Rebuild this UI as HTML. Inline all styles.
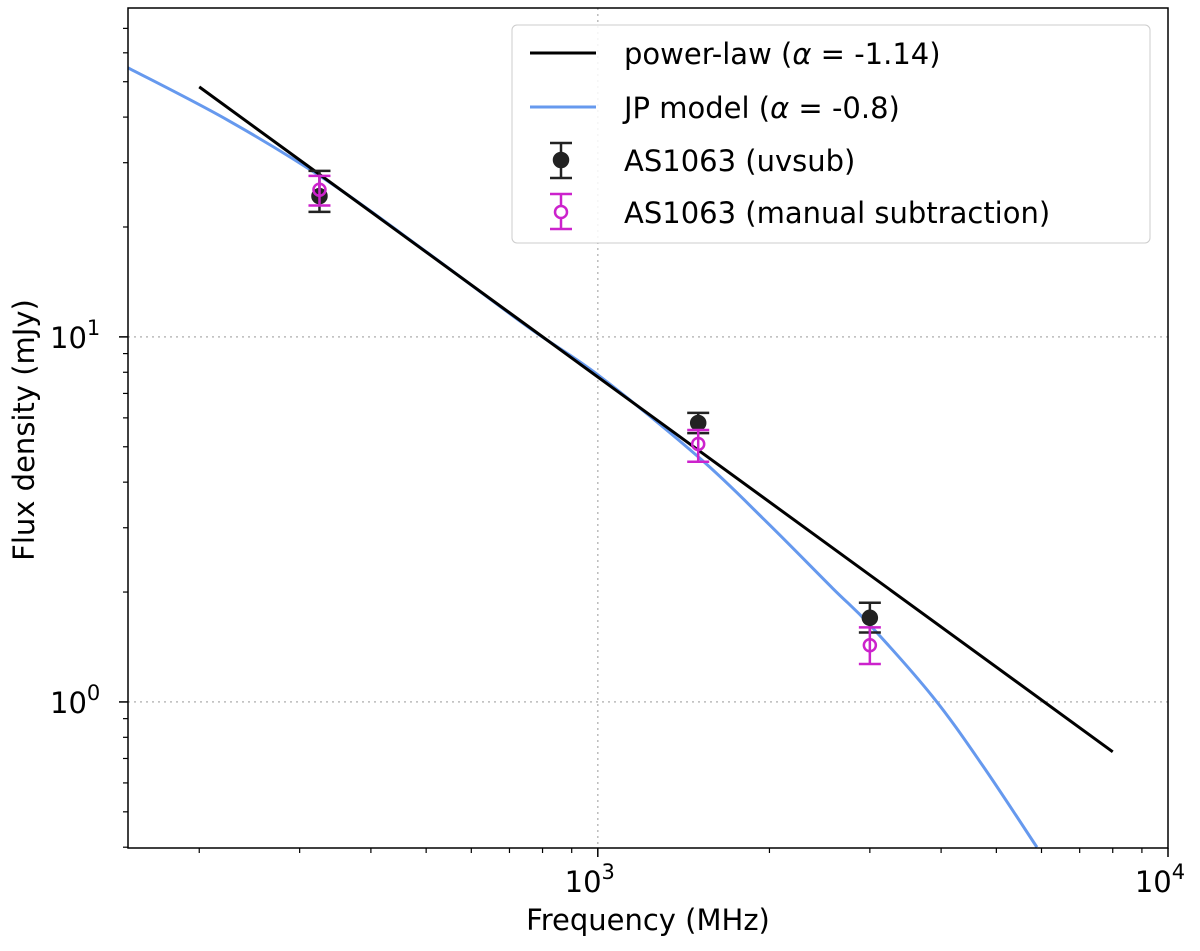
<!DOCTYPE html>
<html><head><meta charset="utf-8"><style>
body{margin:0;background:#fff;}
svg text{font-family:"DejaVu Sans","Liberation Sans",sans-serif;}
</style></head><body>
<svg id="chart" width="1200" height="946" xmlns="http://www.w3.org/2000/svg">
<g id="grid"></g>
<g id="series"></g>
<g id="axes"></g>
<text x="648" y="930" font-size="29" text-anchor="middle">Frequency (MHz)</text>
<text transform="translate(34,430) rotate(-90)" font-size="29" text-anchor="middle">Flux density (mJy)</text>
<g>
<rect x="512" y="25" width="638" height="218" rx="5" fill="#fff" fill-opacity="0.85" stroke="#ccc"/>
<line x1="530" y1="53" x2="596" y2="53" stroke="#000" stroke-width="3"/>
<text x="624" y="64" font-size="29">power-law (<tspan font-style="italic">α</tspan> = -1.14)</text>
<line x1="530" y1="107" x2="596" y2="107" stroke="#6699ee" stroke-width="3"/>
<text x="624" y="118" font-size="29">JP model (<tspan font-style="italic">α</tspan> = -0.8)</text>
<g stroke="#222" stroke-width="2.5"><line x1="561" y1="143" x2="561" y2="178"/><line x1="550" y1="143" x2="572" y2="143"/><line x1="550" y1="178" x2="572" y2="178"/><circle cx="561" cy="160" r="7" fill="#222"/></g>
<text x="624" y="171" font-size="29">AS1063 (uvsub)</text>
<g stroke="#cc22cc" stroke-width="2.5"><line x1="561" y1="194" x2="561" y2="229"/><line x1="550" y1="194" x2="572" y2="194"/><line x1="550" y1="229" x2="572" y2="229"/><circle cx="561" cy="212" r="6" fill="#fff"/></g>
<text x="624" y="223" font-size="29">AS1063 (manual subtraction)</text>
</g>
</svg>
<script>
const plFreq=[200,8000];
const plFlux=[48.4,0.73];
const jpFreq=[150,224,336,503,754,1008,1510,1978,2580,3000,3870,4735,5890];
const jpFlux=[54.6,39.3,26.7,17.0,10.65,7.8,4.65,3.11,2.05,1.625,1.032,0.668,0.400];
const ptFreq=[325,1500,3000];
const uvFlux=[24.3,5.81,1.70];
const uvLo=[22.0,5.45,1.55];
const uvHi=[28.5,6.19,1.87];
const manFlux=[25.3,5.09,1.43];
const manLo=[22.9,4.55,1.27];
const manHi=[27.6,5.56,1.60];
const L=128,R=1168,T=8,B=848;
const xLo=Math.log10(150),xHi=4,yLo=Math.log10(0.398),yHi=Math.log10(79.6);
const X=v=>L+(Math.log10(v)-xLo)/(xHi-xLo)*(R-L);
const Y=v=>B-(Math.log10(v)-yLo)/(yHi-yLo)*(B-T);
const NS="http://www.w3.org/2000/svg";
function mk(p,tag,at){const e=document.createElementNS(NS,tag);for(const k in at)e.setAttribute(k,at[k]);p.appendChild(e);return e;}
const grid=document.getElementById('grid'),ser=document.getElementById('series'),ax=document.getElementById('axes');
[1000].forEach(v=>{const g=mk(grid,'line',{x1:X(v),x2:X(v),y1:T,y2:B,stroke:'#bbb','stroke-dasharray':'2,4','stroke-width':1.5});

});
[1,10].forEach(v=>{const g=mk(grid,'line',{x1:L,x2:R,y1:Y(v),y2:Y(v),stroke:'#bbb','stroke-dasharray':'2,4','stroke-width':1.5});

});
function smoothPath(fx,fy){const P=fx.map((f,i)=>[X(f),Y(fy[i])]);let d='M'+P[0][0]+','+P[0][1];
for(let i=0;i<P.length-1;i++){const p0=P[Math.max(0,i-1)],p1=P[i],p2=P[i+1],p3=P[Math.min(P.length-1,i+2)];
const c1=[p1[0]+(p2[0]-p0[0])/6,p1[1]+(p2[1]-p0[1])/6],c2=[p2[0]-(p3[0]-p1[0])/6,p2[1]-(p3[1]-p1[1])/6];
d+=' C'+c1[0]+','+c1[1]+' '+c2[0]+','+c2[1]+' '+p2[0]+','+p2[1];}return d;}
const jp=mk(ser,'path',{d:smoothPath(jpFreq,jpFlux),fill:'none',stroke:'#6699ee','stroke-width':3});


const pl=mk(ser,'polyline',{points:plFreq.map((f,i)=>X(f)+','+Y(plFlux[i])).join(' '),fill:'none',stroke:'#000','stroke-width':3});


function pts(fl,lo,hi,col,filled,name){fl.forEach((v,i)=>{const g=mk(ser,'g',{stroke:col,'stroke-width':2.5});


const x=X(ptFreq[i]);
mk(g,'line',{x1:x,x2:x,y1:Y(lo[i]),y2:Y(hi[i])});
mk(g,'line',{x1:x-11,x2:x+11,y1:Y(lo[i]),y2:Y(lo[i])});
mk(g,'line',{x1:x-11,x2:x+11,y1:Y(hi[i]),y2:Y(hi[i])});
mk(g,'circle',{cx:x,cy:Y(v),r:filled?7:6,fill:filled?col:'none'});});}
pts(uvFlux,uvLo,uvHi,'#222',true,'uvsub-point');
pts(manFlux,manLo,manHi,'#cc22cc',false,'manual-point');
const fr=mk(ax,'rect',{x:L,y:T,width:R-L,height:B-T,fill:'none',stroke:'#000','stroke-width':1.5});


const xMinor=[200,300,400,500,600,700,800,900,2000,3000,4000,5000,6000,7000,8000,9000];
xMinor.forEach(v=>{const t=mk(ax,'line',{x1:X(v),x2:X(v),y1:B,y2:B+5,stroke:'#000','stroke-width':1.2});

});
const yMinor=[0.4,0.5,0.6,0.7,0.8,0.9,2,3,4,5,6,7,8,9,20,30,40,50,60,70];
yMinor.forEach(v=>{const t=mk(ax,'line',{x1:L-5,x2:L,y1:Y(v),y2:Y(v),stroke:'#000','stroke-width':1.2});

});
const xMajor=[3,4];
xMajor.forEach(e=>{const x=X(Math.pow(10,e));
const t=mk(ax,'line',{x1:x,x2:x,y1:B,y2:B+9,stroke:'#000','stroke-width':1.5});


const tx=mk(ax,'text',{x:x-8,y:B+44,'font-size':29,'text-anchor':'middle'});


tx.innerHTML='10<tspan dy="-13" font-size="21">'+e+'</tspan>';});
const yMajor=[0,1];
yMajor.forEach(e=>{const y=Y(Math.pow(10,e));
const t=mk(ax,'line',{x1:L-9,x2:L,y1:y,y2:y,stroke:'#000','stroke-width':1.5});


const tx=mk(ax,'text',{x:50,y:y+11,'font-size':29});


tx.innerHTML='10<tspan dy="-13" font-size="21">'+e+'</tspan>';});
</script>
</body></html>
